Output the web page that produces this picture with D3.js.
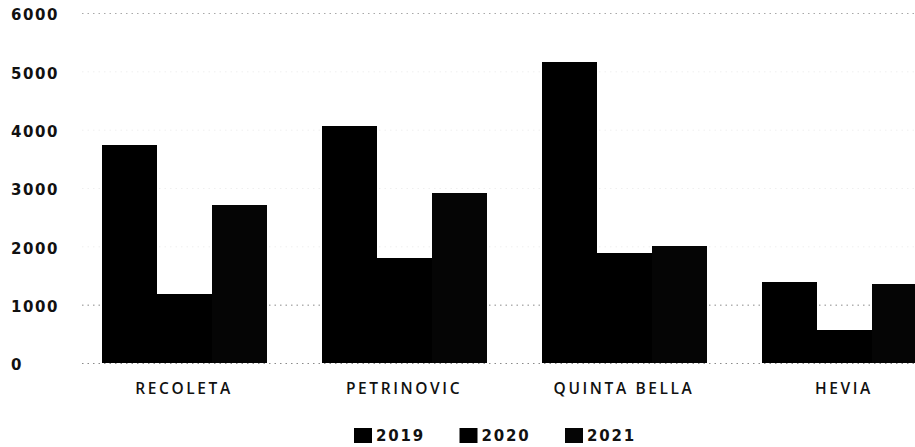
<!DOCTYPE html>
<html>
<head>
<meta charset="utf-8">
<script src="https://cdn.jsdelivr.net/npm/d3@7"></script>
<style>
  html, body { margin: 0; padding: 0; background: #fff; }
  svg { display: block; }
</style>
</head>
<body>
<svg id="chart" width="915" height="447"></svg>
<script>
// Categories, series and tick labels
const categories = ["RECOLETA", "PETRINOVIC", "QUINTA BELLA", "HEVIA"];
const seriesNames = ["2019", "2020", "2021"];
const values2019 = [3740, 4060, 5160, 1390];
const values2020 = [1180, 1800, 1880, 570];
const values2021 = [2710, 2920, 2010, 1350];
const yTicks = [0, 1000, 2000, 3000, 4000, 5000, 6000];

const seriesValues = [values2019, values2020, values2021];
const seriesColors = ["#000000", "#000000", "#050505"];

const rows = categories.map((c, i) => ({
  category: c,
  values: seriesNames.map((s, k) => ({ series: s, value: seriesValues[k][i] }))
}));

const svg = d3.select("#chart");

const y = d3.scaleLinear().domain([0, 6000]).range([363, 13]);

const x0 = d3.scaleBand()
  .domain(categories)
  .range([74, 954])
  .paddingInner(0.25)
  .paddingOuter(0.125);

const x1 = d3.scaleBand()
  .domain(seriesNames)
  .range([0, x0.bandwidth()])
  .padding(0);

// Dotted gridlines
const grid = svg.append("g")
  .attr("transform", "translate(82,0)")
  .call(d3.axisLeft(y).tickValues(yTicks).tickSize(-(915 - 82)).tickFormat(""));
grid.select(".domain").remove();
grid.selectAll(".tick line")
  .attr("stroke", d => (d === 0 || d === 1000) ? "#8a8a8a" : d === 6000 ? "#a8a8a8" : "#efefef")
  .attr("stroke-dasharray", "1.5,4")
  .attr("stroke-width", 1);

// Y tick labels, left aligned
const yAxis = svg.append("g")
  .call(d3.axisLeft(y).tickValues(yTicks).tickSize(0).tickFormat(d3.format("d")));
yAxis.select(".domain").remove();
yAxis.selectAll(".tick text")
  .attr("x", 11)
  .attr("dy", "0.45em")
  .attr("text-anchor", "start")
  .style("font-family", "'DejaVu Sans', sans-serif")
  .style("font-weight", "bold")
  .style("font-size", "15px")
  .style("letter-spacing", "1.6px")
  .attr("fill", "#111");

// Bars
const groups = svg.append("g")
  .attr("shape-rendering", "crispEdges")
  .selectAll("g")
  .data(rows)
  .join("g")
  .attr("transform", d => `translate(${x0(d.category)},0)`);

groups.selectAll("rect")
  .data(d => d.values)
  .join("rect")
  .attr("x", d => x1(d.series))
  .attr("y", d => y(d.value))
  .attr("width", x1.bandwidth() + 0.5)
  .attr("height", d => y(0) - y(d.value))
  .attr("fill", (d, i) => seriesColors[i]);

// Category labels
const xAxis = svg.append("g")
  .attr("transform", `translate(0,${y(0)})`)
  .call(d3.axisBottom(x0).tickSize(0));
xAxis.select(".domain").remove();
xAxis.selectAll(".tick text")
  .attr("y", 26)
  .attr("dy", "0.32em")
  .style("font-family", "'Open Sans', sans-serif")
  .style("font-weight", "600")
  .style("font-size", "15.5px")
  .style("letter-spacing", "2.6px")
  .attr("fill", "#111");

// Legend
const legend = svg.append("g").attr("transform", "translate(354,428)");
const item = legend.selectAll("g")
  .data(seriesNames)
  .join("g")
  .attr("transform", (d, i) => `translate(${i * 105.5},0)`);
item.append("rect")
  .attr("width", 18)
  .attr("height", 15)
  .attr("fill", (d, i) => seriesColors[i]);
item.append("text")
  .attr("x", 22)
  .attr("y", 8)
  .attr("dy", "0.36em")
  .style("font-family", "'DejaVu Sans', sans-serif")
  .style("font-weight", "bold")
  .style("font-size", "15px")
  .style("letter-spacing", "1.8px")
  .attr("fill", "#111")
  .text(d => d);
</script>
</body>
</html>
